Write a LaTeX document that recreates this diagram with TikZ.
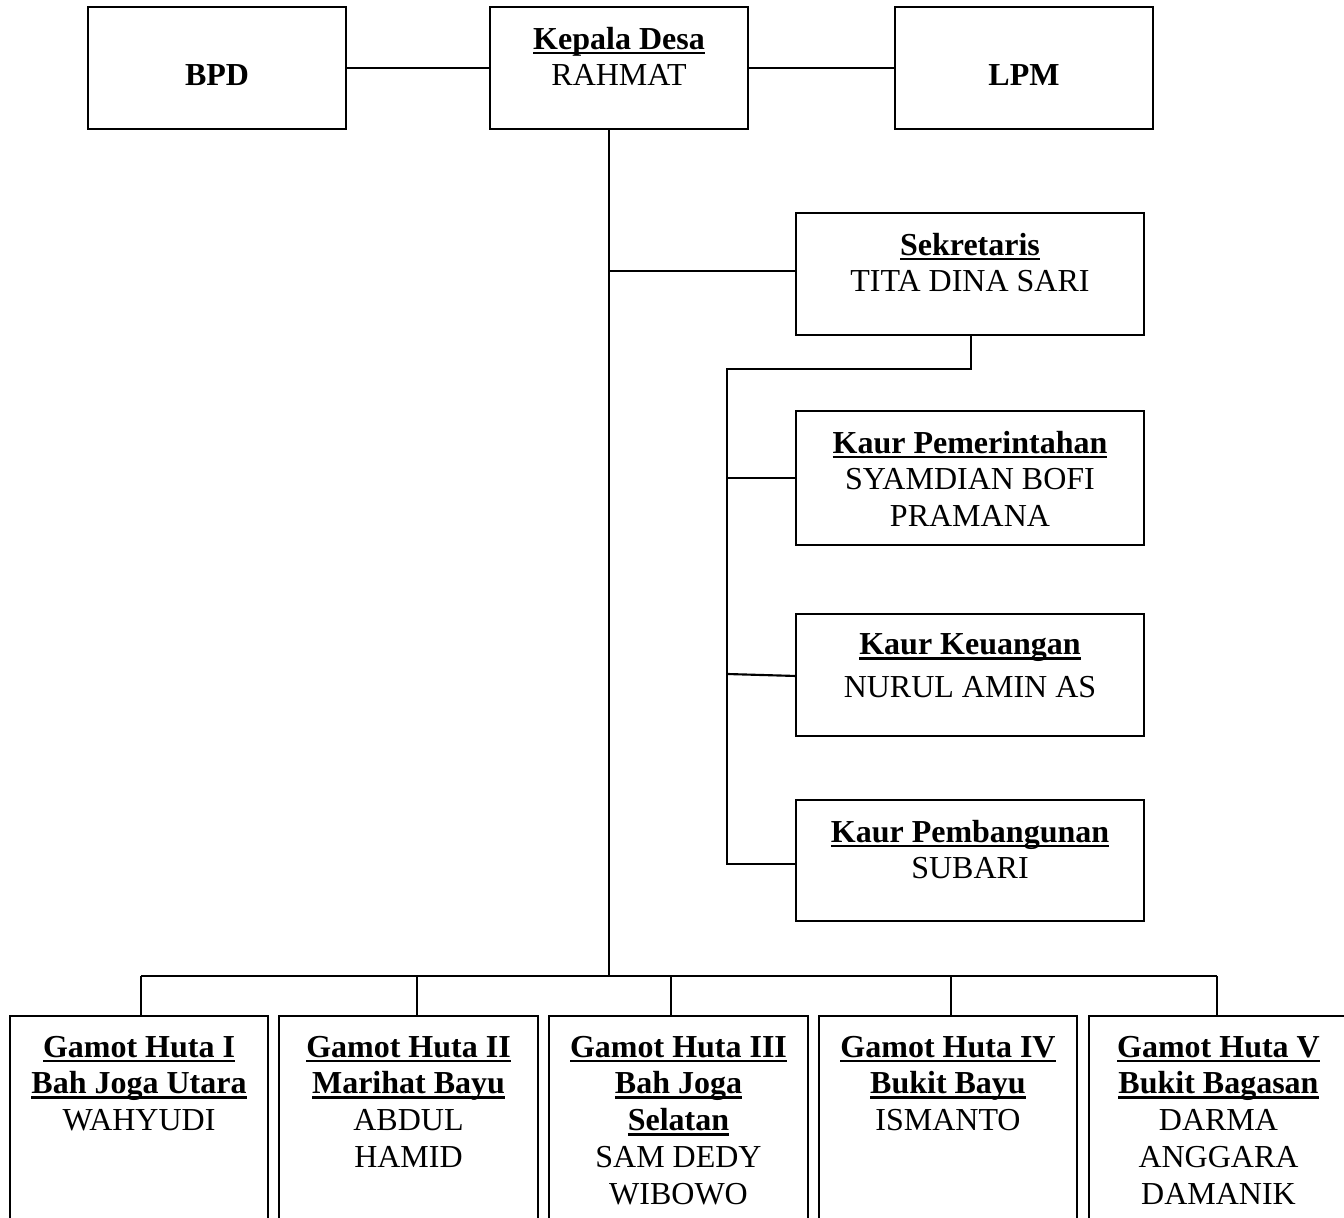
\documentclass[tikz,border=0pt]{standalone}
\usepackage{fontspec}
\setmainfont{Liberation Serif}
\newsavebox\ulsave
\newcommand\ulbox[1]{\sbox\ulsave{\textbf{#1}}\rlap{\rule[-1.8pt]{\wd\ulsave}{0.9pt}}\usebox\ulsave}
\newcommand\pxu{0.375pt}
\begin{document}
\begin{tikzpicture}[x=0.375pt,y=-0.375pt,
  orgbox/.style={draw, line width=0.8pt, inner sep=0pt, outer sep=0pt, rectangle},
  lbl/.style={inner sep=0pt, outer sep=0pt, align=center, font=\fontsize{12}{13.8}\selectfont},
  conn/.style={line width=0.8pt}]
\useasboundingbox (0,0) rectangle (1344,1218);
\clip (0,0) rectangle (1344,1218);
% top row
\node[orgbox, minimum width=258*\pxu, minimum height=122*\pxu] (bpd) at (217,68) {};
\node[orgbox, minimum width=258*\pxu, minimum height=122*\pxu] (kades) at (619,68) {};
\node[orgbox, minimum width=258*\pxu, minimum height=122*\pxu] (lpm) at (1024,68) {};
\node[lbl, anchor=base] (tbpd) at (217,86) {\textbf{BPD}};
\node[lbl, anchor=base] (tlpm) at (1024,86) {\textbf{LPM}};
\node[lbl, anchor=north] (tkades) at (619,27) {\ulbox{Kepala Desa}\\RAHMAT};
% right column
\node[orgbox, minimum width=348*\pxu, minimum height=122*\pxu] (sek) at (970,274) {};
\node[orgbox, minimum width=348*\pxu, minimum height=134*\pxu] (pem) at (970,478) {};
\node[orgbox, minimum width=348*\pxu, minimum height=122*\pxu] (keu) at (970,675) {};
\node[orgbox, minimum width=348*\pxu, minimum height=121*\pxu] (pbg) at (970,860.5) {};
\node[lbl, anchor=north] (tsek) at (970,233) {\ulbox{Sekretaris}\\TITA DINA SARI};
\node[lbl, anchor=north] (tpem) at (970,431) {\ulbox{Kaur Pemerintahan}\\SYAMDIAN BOFI\\PRAMANA};
\node[lbl, anchor=north] (tkeu) at (970,634) {\ulbox{Kaur Keuangan}\\[2pt]NURUL AMIN AS};
\node[lbl, anchor=north] (tpbg) at (970,820) {\ulbox{Kaur Pembangunan}\\SUBARI};
% bottom row
\node[orgbox, minimum width=258*\pxu, minimum height=224*\pxu] (g1) at (139,1128) {};
\node[orgbox, minimum width=259*\pxu, minimum height=224*\pxu] (g2) at (408.5,1128) {};
\node[orgbox, minimum width=259*\pxu, minimum height=224*\pxu] (g3) at (678.5,1128) {};
\node[orgbox, minimum width=258*\pxu, minimum height=224*\pxu] (g4) at (948,1128) {};
\node[orgbox, minimum width=259*\pxu, minimum height=224*\pxu] (g5) at (1218.5,1128) {};
\node[lbl, anchor=north] (tg1) at (139,1036) {\ulbox{Gamot Huta I}\\\ulbox{Bah Joga Utara}\\WAHYUDI};
\node[lbl, anchor=north] (tg2) at (408.5,1036) {\ulbox{Gamot Huta II}\\\ulbox{Marihat Bayu}\\ABDUL\\HAMID};
\node[lbl, anchor=north] (tg3) at (678.5,1036) {\ulbox{Gamot Huta III}\\\ulbox{Bah Joga}\\\ulbox{Selatan}\\SAM DEDY\\WIBOWO};
\node[lbl, anchor=north] (tg4) at (948,1036) {\ulbox{Gamot Huta IV}\\\ulbox{Bukit Bayu}\\ISMANTO};
\node[lbl, anchor=north] (tg5) at (1218.5,1036) {\ulbox{Gamot Huta V}\\\ulbox{Bukit Bagasan}\\DARMA\\ANGGARA\\DAMANIK};
% coordinates
\coordinate (tk) at (609,976);
\coordinate (sa) at (609,271);
\coordinate (sd) at (971,369);
\coordinate (sv) at (727,369);
\coordinate (sb) at (727,864);
\coordinate (pa) at (727,478);
\coordinate (ka) at (727,674);
\coordinate (kb) at (796,676);
\coordinate (hb1) at (141,976);
\coordinate (hb2) at (417,976);
\coordinate (hb3) at (671,976);
\coordinate (hb4) at (951,976);
\coordinate (hb5) at (1217,976);
% connectors
\draw[conn] (bpd.east) -- (kades.west);
\draw[conn] (kades.east) -- (lpm.west);
\draw[conn] (kades.south -| tk) -- (tk);
\draw[conn] (sa) -- (sek.west |- sa);
\draw[conn] (sek.south -| sd) -- (sd) -- (sv) -- (sb) -- (pbg.west |- sb);
\draw[conn] (pa) -- (pem.west |- pa);
\draw[conn] (ka) -- (kb);
\draw[conn] (hb1) -- (hb5);
\draw[conn] (hb1) -- (hb1 |- g1.north);
\draw[conn] (hb2) -- (hb2 |- g2.north);
\draw[conn] (hb3) -- (hb3 |- g3.north);
\draw[conn] (hb4) -- (hb4 |- g4.north);
\draw[conn] (hb5) -- (hb5 |- g5.north);
\end{tikzpicture}
\end{document}
